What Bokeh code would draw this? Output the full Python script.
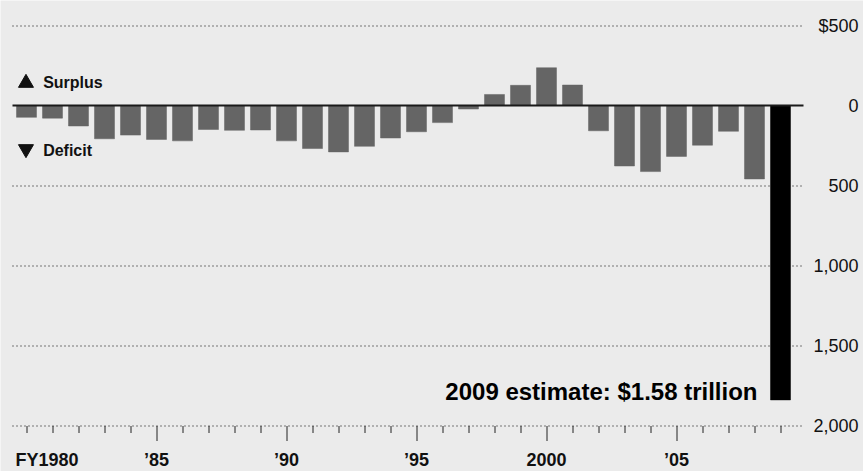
from bokeh.plotting import figure
from bokeh.models import ColumnDataSource, Range1d
from bokeh.embed import file_html
from bokeh.resources import INLINE
from bokeh.core.properties import value

# ---- data (billions of dollars; negative = deficit) ----
years = list(range(1980, 2010))
balance = [-74, -79, -128, -208, -185, -212, -221, -150, -155, -153,
           -221, -269, -290, -255, -203, -164, -107, -22, 69, 126,
           236, 128, -158, -378, -413, -318, -248, -161, -459, -1840]
bar_colors = ["#656565"] * 29 + ["#000000"]

y_ticks = [500, 0, -500, -1000, -1500, -2000]
y_tick_labels = ["$500", "0", "500", "1,000", "1,500", "2,000"]
grid_ticks = [500, -500, -1000, -1500, -2000]

major_years = [1985, 1990, 1995, 2000, 2005]
major_year_labels = ["\u201985", "\u201990", "\u201995", "2000", "\u201905"]

FONT = "Liberation Sans"
BG = "#ebebeb"
INK = "#111111"

# scale: 26 px per year, 80 px per $500 billion (6.25 per px)
XPX = 1 / 26.0
YPX = 6.25
X0, X1 = 1979.0, 1979.0 + 863 * XPX
Y1 = 656.25
Y0 = Y1 - 471 * YPX

p = figure(width=863, height=471, output_backend="svg", toolbar_location=None,
           x_range=Range1d(X0, X1), y_range=Range1d(Y0, Y1),
           min_border=0, min_border_left=0, min_border_right=0,
           min_border_top=0, min_border_bottom=0)
p.background_fill_color = BG
p.border_fill_color = BG
p.outline_line_color = None
p.axis.visible = False
p.grid.visible = False

line_left = X0 + 12 * XPX
line_right = X0 + 803 * XPX

# dotted grid lines (half-pixel offset keeps 1px lines crisp)
p.segment(x0=[line_left] * len(grid_ticks), x1=[line_right] * len(grid_ticks),
          y0=[g - 0.5 * YPX for g in grid_ticks],
          y1=[g - 0.5 * YPX for g in grid_ticks],
          line_color="#000000", line_width=1.2, line_dash="1 3")

# year ticks along the bottom line
base = grid_ticks[-1]
tick_len = [15 if y in major_years else 7 for y in years]
p.segment(x0=[y + 0.5 * XPX for y in years], x1=[y + 0.5 * XPX for y in years],
          y0=[base - 0.5 * YPX] * len(years),
          y1=[base - (t + 0.5) * YPX for t in tick_len],
          line_color="#222222", line_width=1)

# bars
src = ColumnDataSource(dict(x=years, top=balance, color=bar_colors))
p.vbar(x="x", top="top", bottom=0, width=0.77, fill_color="color",
       line_color="color", line_width=0.5, source=src)

# zero line
p.segment(x0=[line_left], x1=[line_right], y0=[0], y1=[0],
          line_color="#1a1a1a", line_width=2)

# right-side value labels
p.text(x=[X0 + 858 * XPX] * len(y_ticks), y=y_ticks, text=y_tick_labels,
       text_align="right", text_baseline="middle",
       text_font=value(FONT), text_font_size="18px", text_color=INK)

# bottom year labels
label_y = Y1 - 459 * YPX
p.text(x=major_years, y=[label_y] * len(major_years), text=major_year_labels,
       text_align="center", text_baseline="middle",
       text_font=value(FONT), text_font_style="bold", text_font_size="18px",
       text_color=INK)
p.text(x=[X0 + 15 * XPX], y=[label_y], text=["FY1980"],
       text_align="left", text_baseline="middle",
       text_font=value(FONT), text_font_style="bold", text_font_size="18px",
       text_color=INK)

# legend markers
p.scatter(x=[1979.98], y=[Y1 - 82.5 * YPX], marker="triangle", size=15,
          color=INK)
p.scatter(x=[1979.98], y=[Y1 - 148.5 * YPX], marker="inverted_triangle",
          size=15, color=INK)
p.text(x=[1980.64, 1980.64], y=[Y1 - 81.5 * YPX, Y1 - 149.5 * YPX],
       text=["Surplus", "Deficit"],
       text_font=value(FONT), text_font_style="bold", text_font_size="16px",
       text_color=INK, text_baseline="middle")

p.text(x=[2008.115], y=[Y1 - 391 * YPX], text=["2009 estimate: $1.58 trillion"],
       text_font=value(FONT), text_font_style="bold", text_font_size="24px",
       text_color="#000000", text_align="right", text_baseline="middle")

open("out.html", "w").write(file_html(p, INLINE))
